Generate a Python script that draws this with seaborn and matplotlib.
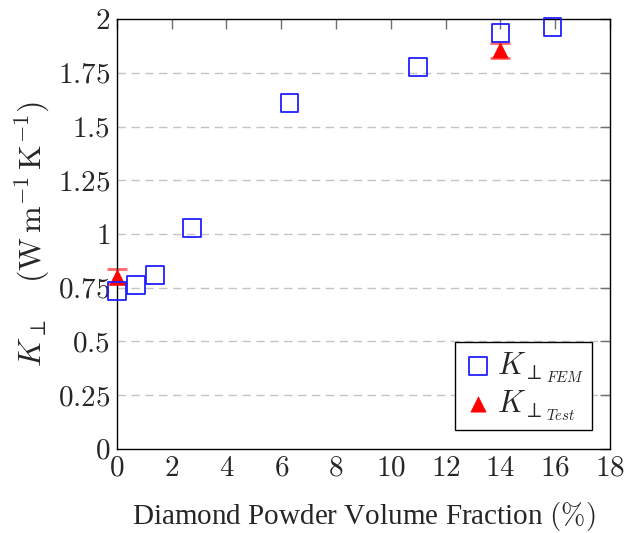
import matplotlib
matplotlib.use("Agg")
import matplotlib.pyplot as plt
import seaborn as sns
import numpy as np
import pandas as pd

fem_x = [0.0, 0.7, 1.4, 2.75, 6.3, 11.0, 14.0, 15.9]
fem_y = [0.735, 0.763, 0.81, 1.028, 1.61, 1.777, 1.935, 1.963]
test_x = [0.0, 14.0]
test_y = [0.80, 1.856]
test_err = [0.035, 0.035]
x_ticks = [0, 2, 4, 6, 8, 10, 12, 14, 16, 18]
y_ticks = [0, 0.25, 0.5, 0.75, 1, 1.25, 1.5, 1.75, 2]
y_tick_labels = ["0", "0.25", "0.5", "0.75", "1", "1.25", "1.5", "1.75", "2"]

sns.set_theme(style="white")
plt.rcParams['font.family'] = ['Liberation Serif', 'DejaVu Serif']
plt.rcParams['mathtext.fontset'] = 'cm'

fig = plt.figure(figsize=(6.25, 5.33), dpi=100)
ax = fig.add_axes([0.187, 0.158, 0.789, 0.806])

for y in y_ticks[1:-1]:
    ax.axhline(y, color='#c4c4c4', lw=1.0, ls=(0, (6, 4)), zorder=0)

df_fem = pd.DataFrame({'x': fem_x, 'y': fem_y})
df_test = pd.DataFrame({'x': test_x, 'y': test_y})

ax.errorbar(test_x, test_y, yerr=test_err, fmt='none', ecolor=(1, 0.4, 0.4),
            elinewidth=1.0, capsize=7, capthick=2, zorder=2, clip_on=False)
sns.scatterplot(data=df_fem, x='x', y='y', ax=ax, marker='s', s=160,
                facecolors='none', edgecolor='#2020ff', linewidth=1.3,
                label=r'$K_{\perp_{FEM}}$', zorder=4, clip_on=False)
sns.scatterplot(data=df_test, x='x', y='y', ax=ax, marker='^', s=120,
                color='red', edgecolor='red', linewidth=0.5,
                label=r'$K_{\perp_{Test}}$', zorder=3, clip_on=False)

ax.set_xlim(0, 18)
ax.set_ylim(0, 2)
ax.set_xticks(x_ticks)
ax.set_xticklabels([f"${t}$" for t in x_ticks])
ax.set_yticks(y_ticks)
ax.set_yticklabels([f"${t}$" for t in y_tick_labels])
ax.tick_params(axis='both', which='major', direction='in', length=7,
               width=1.0, color='#707070', labelsize=21, top=True, right=True,
               pad=5)
for sp in ax.spines.values():
    sp.set_color('black')
    sp.set_linewidth(1.0)
    sp.set_visible(True)

ax.set_xlabel(r'Diamond Powder Volume Fraction $(\%)$', fontsize=21, labelpad=13)
ax.set_ylabel(r'$K_{\perp}$    $(\mathrm{W\,m^{-1}\,K^{-1}})$', fontsize=23, labelpad=4)

leg = ax.legend(loc='lower right', fontsize=22, frameon=True, fancybox=False,
                edgecolor='black', framealpha=1, handletextpad=0.1,
                borderpad=0.25, handlelength=1.0, labelspacing=0.1,
                borderaxespad=0.6)
leg.get_frame().set_linewidth(1.0)

fig.savefig('out.png', dpi=100)
